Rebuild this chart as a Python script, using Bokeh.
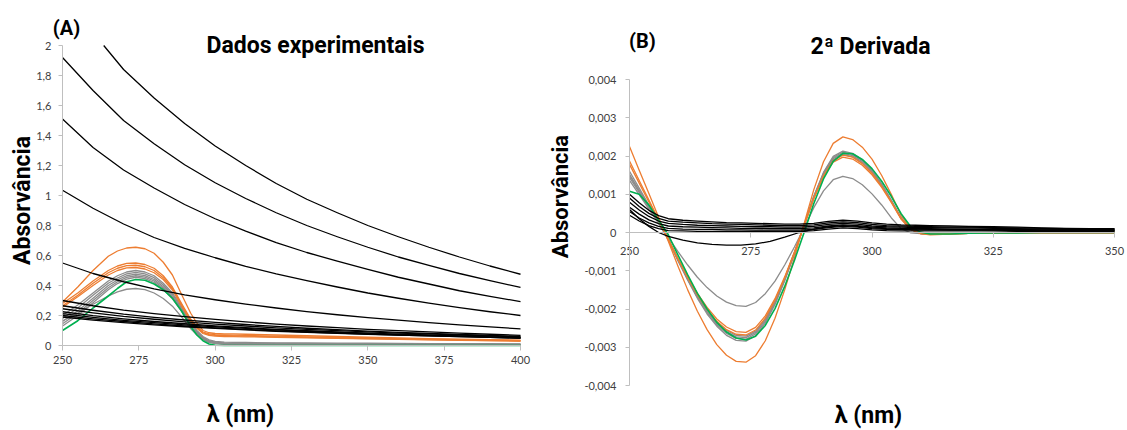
import math
from bokeh.plotting import figure
from bokeh.layouts import row
from bokeh.models import Label, FixedTicker, CustomJSTickFormatter, Range1d
from bokeh.embed import file_html
from bokeh.resources import INLINE

# ---------------- (A) measured absorbance spectra ----------------
wl_scatter = [250, 260, 270, 280, 290, 300, 310, 320, 330, 340, 350, 360, 370, 380, 390, 400]
# the most concentrated sample leaves the 0-2 window near 263.5 nm
wl_black_1 = [263.5, 270, 280, 290, 300, 310, 320, 330, 340, 350, 360, 370, 380, 390, 400]

abs_black_1 = [2.0, 1.84, 1.65, 1.48, 1.33, 1.20, 1.08, 0.975, 0.885, 0.80, 0.725, 0.655, 0.59, 0.53, 0.475]
abs_black_2 = [1.92, 1.70, 1.50, 1.345, 1.205, 1.085, 0.98, 0.885, 0.80, 0.725, 0.655, 0.59, 0.534, 0.48, 0.432, 0.387]
abs_black_3 = [1.51, 1.32, 1.17, 1.05, 0.94, 0.845, 0.762, 0.686, 0.62, 0.562, 0.508, 0.455, 0.41, 0.365, 0.327, 0.293]
abs_black_4 = [1.035, 0.915, 0.81, 0.72, 0.648, 0.585, 0.528, 0.477, 0.432, 0.39, 0.35, 0.315, 0.282, 0.252, 0.225, 0.20]
abs_black_5 = [0.55, 0.48, 0.425, 0.378, 0.338, 0.305, 0.276, 0.25, 0.226, 0.205, 0.186, 0.169, 0.153, 0.138, 0.124, 0.111]
abs_black_6 = [0.30, 0.265, 0.236, 0.213, 0.192, 0.174, 0.157, 0.143, 0.13, 0.119, 0.108, 0.099, 0.091, 0.083, 0.075, 0.068]
abs_black_7 = [0.265, 0.235, 0.209, 0.188, 0.17, 0.154, 0.14, 0.127, 0.115, 0.106, 0.096, 0.088, 0.081, 0.074, 0.067, 0.061]
abs_black_8 = [0.245, 0.218, 0.194, 0.175, 0.158, 0.143, 0.13, 0.118, 0.108, 0.099, 0.091, 0.083, 0.077, 0.07, 0.064, 0.058]
abs_black_9 = [0.225, 0.199, 0.178, 0.16, 0.145, 0.131, 0.119, 0.108, 0.099, 0.091, 0.083, 0.076, 0.07, 0.064, 0.058, 0.053]
abs_black_10 = [0.212, 0.188, 0.168, 0.152, 0.137, 0.125, 0.114, 0.104, 0.095, 0.087, 0.08, 0.073, 0.068, 0.062, 0.057, 0.052]
abs_black_11 = [0.20, 0.178, 0.16, 0.144, 0.13, 0.118, 0.107, 0.098, 0.09, 0.083, 0.076, 0.07, 0.064, 0.059, 0.054, 0.048]
abs_black_12 = [0.19, 0.169, 0.152, 0.137, 0.125, 0.114, 0.104, 0.095, 0.087, 0.081, 0.074, 0.069, 0.064, 0.059, 0.054, 0.05]

wl_band = [250, 255, 260, 265, 268, 271, 274, 277, 280, 283, 286, 289, 292, 294, 296, 298,
           300, 303, 306, 310, 320, 330, 340, 350, 360, 370, 380, 390, 400]

abs_orange_1 = [0.29, 0.39, 0.50, 0.595, 0.63, 0.65, 0.655, 0.645, 0.615, 0.555, 0.47, 0.34, 0.215, 0.15, 0.10, 0.085,
                0.08, 0.078, 0.077, 0.075, 0.07, 0.065, 0.06, 0.055, 0.05, 0.046, 0.042, 0.039, 0.036]
abs_orange_2 = [0.28, 0.35, 0.43, 0.50, 0.53, 0.547, 0.55, 0.54, 0.515, 0.465, 0.39, 0.28, 0.175, 0.125, 0.09, 0.077,
                0.072, 0.07, 0.069, 0.067, 0.063, 0.058, 0.054, 0.05, 0.046, 0.042, 0.039, 0.036, 0.033]
abs_orange_3 = [0.265, 0.335, 0.415, 0.485, 0.515, 0.532, 0.535, 0.525, 0.50, 0.452, 0.38, 0.272, 0.168, 0.12, 0.085, 0.072,
                0.067, 0.065, 0.064, 0.062, 0.058, 0.054, 0.05, 0.046, 0.042, 0.039, 0.036, 0.033, 0.03]
abs_orange_4 = [0.255, 0.325, 0.40, 0.47, 0.50, 0.517, 0.52, 0.51, 0.485, 0.44, 0.37, 0.264, 0.162, 0.115, 0.08, 0.067,
                0.062, 0.06, 0.059, 0.058, 0.055, 0.051, 0.048, 0.044, 0.041, 0.038, 0.035, 0.032, 0.03]

abs_gray_1 = [0.20, 0.27, 0.35, 0.43, 0.465, 0.49, 0.50, 0.49, 0.465, 0.415, 0.35, 0.26, 0.155, 0.10, 0.06, 0.038,
              0.028, 0.023, 0.021, 0.02, 0.018, 0.017, 0.016, 0.015, 0.014, 0.013, 0.012, 0.012, 0.011]
abs_gray_2 = [0.18, 0.25, 0.335, 0.415, 0.45, 0.478, 0.488, 0.478, 0.452, 0.403, 0.34, 0.25, 0.147, 0.094, 0.054, 0.032,
              0.023, 0.018, 0.016, 0.015, 0.014, 0.013, 0.012, 0.011, 0.011, 0.010, 0.010, 0.009, 0.009]
abs_gray_3 = [0.16, 0.23, 0.315, 0.40, 0.437, 0.465, 0.476, 0.466, 0.44, 0.392, 0.33, 0.242, 0.14, 0.088, 0.049, 0.027,
              0.019, 0.014, 0.012, 0.012, 0.011, 0.010, 0.010, 0.009, 0.009, 0.008, 0.008, 0.008, 0.008]
abs_gray_4 = [0.145, 0.215, 0.30, 0.385, 0.425, 0.454, 0.465, 0.456, 0.43, 0.382, 0.32, 0.234, 0.135, 0.084, 0.045, 0.024,
              0.016, 0.011, 0.009, 0.009, 0.008, 0.008, 0.007, 0.007, 0.007, 0.006, 0.006, 0.006, 0.006]
abs_gray_5 = [0.13, 0.20, 0.285, 0.372, 0.413, 0.443, 0.455, 0.446, 0.42, 0.373, 0.312, 0.227, 0.13, 0.08, 0.042, 0.021,
              0.013, 0.008, 0.007, 0.007, 0.006, 0.006, 0.005, 0.005, 0.005, 0.005, 0.004, 0.004, 0.004]
abs_gray_6 = [0.165, 0.215, 0.275, 0.33, 0.358, 0.375, 0.38, 0.372, 0.35, 0.313, 0.262, 0.19, 0.112, 0.072, 0.042, 0.024,
              0.016, 0.012, 0.011, 0.010, 0.009, 0.008, 0.008, 0.007, 0.007, 0.007, 0.006, 0.006, 0.006]

abs_green = [0.10, 0.165, 0.25, 0.33, 0.38, 0.425, 0.44, 0.435, 0.41, 0.372, 0.315, 0.23, 0.125, 0.07, 0.032, 0.01,
             0.002, 0.0, 0.0, 0.0, 0.0, 0.0, 0.0, 0.0, 0.0, 0.0, 0.0, 0.0, 0.0]

# ---------------- (B) second derivative ----------------
wl_deriv = [250, 252, 254, 256, 258, 261, 264, 267, 270, 273, 276, 279, 282, 285, 288, 291,
            294, 297, 300, 303, 306, 309, 312, 316, 320, 325, 330, 335, 340, 345, 350]
wl_deriv_fine = [250, 252, 254, 256, 258, 260, 262, 264, 266, 268, 270, 272, 274, 276, 278, 280, 282, 284,
                 286, 288, 290, 292, 294, 296, 298, 300, 302, 304, 306, 308, 310, 312, 316, 320,
                 325, 330, 335, 340, 345, 350]

d2_black_1 = [0.00100, 0.00078, 0.00058, 0.00044, 0.00036, 0.00032, 0.00030, 0.00028, 0.00026, 0.00025, 0.00024,
              0.00023, 0.00022, 0.00022, 0.00024, 0.00029, 0.00032, 0.00030, 0.00025, 0.00022, 0.00020, 0.00019,
              0.00018, 0.00017, 0.00016, 0.00015, 0.00014, 0.00012, 0.00011, 0.00010, 0.00010]
d2_black_2 = [0.00090, 0.00068, 0.00050, 0.00037, 0.00030, 0.00027, 0.00025, 0.00023, 0.00022, 0.00021, 0.00020,
              0.00019, 0.00018, 0.00018, 0.00020, 0.00025, 0.00028, 0.00026, 0.00021, 0.00018, 0.00017, 0.00016,
              0.00015, 0.00014, 0.00014, 0.00013, 0.00012, 0.00011, 0.00010, 0.00009, 0.00009]
d2_black_3 = [0.00079, 0.00059, 0.00042, 0.00030, 0.00024, 0.00021, 0.00019, 0.00018, 0.00017, 0.00016, 0.00015,
              0.00015, 0.00014, 0.00014, 0.00016, 0.00021, 0.00024, 0.00022, 0.00017, 0.00015, 0.00014, 0.00013,
              0.00013, 0.00012, 0.00012, 0.00011, 0.00010, 0.00009, 0.00008, 0.00008, 0.00008]
d2_black_4 = [0.00066, 0.00048, 0.00033, 0.00023, 0.00017, 0.00015, 0.00014, 0.00013, 0.00012, 0.00011, 0.00011,
              0.00010, 0.00010, 0.00010, 0.00012, 0.00017, 0.00020, 0.00018, 0.00014, 0.00012, 0.00011, 0.00010,
              0.00010, 0.00009, 0.00009, 0.00008, 0.00008, 0.00007, 0.00007, 0.00006, 0.00006]
d2_black_5 = [0.00055, 0.00038, 0.00025, 0.00016, 0.00011, 0.00009, 0.00008, 0.00008, 0.00007, 0.00007, 0.00006,
              0.00006, 0.00006, 0.00006, 0.00008, 0.00013, 0.00016, 0.00014, 0.00010, 0.00008, 0.00008, 0.00007,
              0.00007, 0.00006, 0.00006, 0.00006, 0.00005, 0.00005, 0.00005, 0.00005, 0.00005]
d2_black_6 = [0.00045, 0.00030, 0.00018, 0.00010, 0.00005, 0.00004, 0.00003, 0.00003, 0.00003, 0.00003, 0.00003,
              0.00003, 0.00003, 0.00003, 0.00005, 0.00009, 0.00012, 0.00010, 0.00007, 0.00005, 0.00004, 0.00004,
              0.00004, 0.00004, 0.00004, 0.00004, 0.00003, 0.00003, 0.00003, 0.00003, 0.00003]
d2_black_7 = [0.00060, 0.00036, 0.00016, 0.00000, -0.00010, -0.00020, -0.00027, -0.00031, -0.00033, -0.00033, -0.00030,
              -0.00023, -0.00012, 0.00000, 0.00009, 0.00015, 0.00018, 0.00016, 0.00012, 0.00010, 0.00009, 0.00009,
              0.00008, 0.00008, 0.00008, 0.00007, 0.00007, 0.00006, 0.00006, 0.00005, 0.00005]

d2_orange_1 = [0.00225, 0.00163, 0.00102, 0.00040, -0.00023, -0.00088, -0.00150, -0.00206, -0.00254, -0.00293,
               -0.00321, -0.00337, -0.00339, -0.00322, -0.00283, -0.00224, -0.00150, -0.00066, 0.00023, 0.00112,
               0.00185, 0.00233, 0.00250, 0.00243, 0.00223, 0.00192, 0.00149, 0.00099, 0.00045, 0.00010,
               -0.00003, -0.00006, -0.00004, -0.00002, -0.00001, 0.0, 0.0, 0.0, 0.0, 0.0]
d2_orange_2 = [0.00187, 0.00136, 0.00085, 0.00033, -0.00018, -0.00068, -0.00115, -0.00159, -0.00196, -0.00226,
               -0.00247, -0.00259, -0.00261, -0.00248, -0.00218, -0.00173, -0.00116, -0.00051, 0.00018, 0.00088,
               0.00146, 0.00184, 0.00197, 0.00192, 0.00176, 0.00151, 0.00118, 0.00078, 0.00035, 0.00008,
               -0.00002, -0.00005, -0.00003, -0.00002, -0.00001, 0.0, 0.0, 0.0, 0.0, 0.0]
d2_orange_3 = [0.00178, 0.00129, 0.00080, 0.00032, -0.00018, -0.00070, -0.00118, -0.00163, -0.00201, -0.00232,
               -0.00254, -0.00266, -0.00268, -0.00255, -0.00224, -0.00177, -0.00119, -0.00052, 0.00019, 0.00090,
               0.00149, 0.00188, 0.00202, 0.00197, 0.00180, 0.00155, 0.00121, 0.00080, 0.00036, 0.00008,
               -0.00002, -0.00005, -0.00003, -0.00002, -0.00001, 0.0, 0.0, 0.0, 0.0, 0.0]

d2_gray_1 = [0.00160, 0.00116, 0.00072, 0.00028, -0.00019, -0.00074, -0.00125, -0.00172, -0.00213, -0.00245,
             -0.00269, -0.00282, -0.00284, -0.00270, -0.00237, -0.00188, -0.00126, -0.00056, 0.00020, 0.00095,
             0.00157, 0.00199, 0.00213, 0.00207, 0.00190, 0.00163, 0.00127, 0.00084, 0.00038, 0.00009,
             -0.00003, -0.00005, -0.00003, -0.00002, -0.00001, 0.0, 0.0, 0.0, 0.0, 0.0]
d2_gray_2 = [0.00152, 0.00110, 0.00069, 0.00027, -0.00019, -0.00073, -0.00123, -0.00169, -0.00209, -0.00241,
             -0.00264, -0.00277, -0.00279, -0.00265, -0.00233, -0.00185, -0.00124, -0.00055, 0.00019, 0.00094,
             0.00155, 0.00196, 0.00210, 0.00204, 0.00188, 0.00161, 0.00125, 0.00083, 0.00038, 0.00008,
             -0.00003, -0.00005, -0.00003, -0.00002, -0.00001, 0.0, 0.0, 0.0, 0.0, 0.0]
d2_gray_3 = [0.00144, 0.00105, 0.00065, 0.00026, -0.00019, -0.00071, -0.00121, -0.00167, -0.00206, -0.00238,
             -0.00260, -0.00273, -0.00275, -0.00261, -0.00229, -0.00182, -0.00122, -0.00054, 0.00019, 0.00092,
             0.00153, 0.00193, 0.00207, 0.00201, 0.00185, 0.00159, 0.00124, 0.00082, 0.00037, 0.00008,
             -0.00002, -0.00005, -0.00003, -0.00002, -0.00001, 0.0, 0.0, 0.0, 0.0, 0.0]
d2_gray_4 = [0.00136, 0.00099, 0.00061, 0.00024, -0.00018, -0.00070, -0.00120, -0.00165, -0.00203, -0.00234,
             -0.00256, -0.00269, -0.00271, -0.00258, -0.00226, -0.00179, -0.00120, -0.00053, 0.00019, 0.00091,
             0.00151, 0.00190, 0.00204, 0.00198, 0.00182, 0.00156, 0.00122, 0.00081, 0.00037, 0.00008,
             -0.00002, -0.00005, -0.00003, -0.00002, -0.00001, 0.0, 0.0, 0.0, 0.0, 0.0]
d2_gray_5 = [0.00150, 0.00109, 0.00068, 0.00027, -0.00013, -0.00050, -0.00085, -0.00117, -0.00144, -0.00166,
             -0.00182, -0.00191, -0.00193, -0.00183, -0.00160, -0.00127, -0.00085, -0.00038, 0.00012, 0.00065,
             0.00109, 0.00138, 0.00147, 0.00141, 0.00125, 0.00101, 0.00072, 0.00038, 0.00010, -0.00001,
             -0.00003, -0.00003, -0.00001, -0.00001, 0.0, 0.0, 0.0, 0.0, 0.0, 0.0]

d2_green = [0.00108, 0.00100, 0.00072, 0.00032, -0.00006, -0.00059, -0.00111, -0.00159, -0.00200, -0.00235,
            -0.00260, -0.00276, -0.00281, -0.00271, -0.00243, -0.00199, -0.00141, -0.00073, 0.0, 0.00076,
            0.00140, 0.00186, 0.00207, 0.00206, 0.00191, 0.00167, 0.00134, 0.00094, 0.00049, 0.00015,
            0.00001, -0.00004, -0.00004, -0.00002, -0.00001, -0.00001, 0.0, 0.0, 0.0, 0.0]

ticks_a_x = [250, 275, 300, 325, 350, 375, 400]
ticks_a_y = [0, 0.2, 0.4, 0.6, 0.8, 1.0, 1.2, 1.4, 1.6, 1.8, 2.0]
ticks_b_x = [250, 275, 300, 325, 350]
ticks_b_y = [-0.004, -0.003, -0.002, -0.001, 0, 0.001, 0.002, 0.003, 0.004]

# ---------------- styling ----------------
BLACK = "#000000"
ORANGE = "#ED7D31"
GRAY = "#8C8C8C"
GREEN = "#00B050"
AXIS = "#BFBFBF"
TICK_TXT = "#404040"
TITLE_FONT = "Roboto"
TICK_FONT = "Lato"
LW = 1.3
H = 430


def comma_formatter(decimals):
    return CustomJSTickFormatter(code=f"""
        const v = Math.round(tick * 1e{decimals}) / 1e{decimals};
        return (v === 0 ? "0" : v.toString()).replace('.', ',');
    """)


def panel(width, xlim, ylim, px_left, px_right, px_top, px_bottom):
    """Figure whose frame fills the canvas; the data box xlim x ylim lands on
    the given pixel box, and the axes are pinned to the box's lower-left data
    corner so their tick labels are never cut by the frame."""
    sx = (px_right - px_left) / (xlim[1] - xlim[0])
    sy = (px_bottom - px_top) / (ylim[1] - ylim[0])
    xr = Range1d(xlim[0] - px_left / sx, xlim[1] + (width - px_right) / sx)
    yr = Range1d(ylim[0] - (H - px_bottom) / sy, ylim[1] + px_top / sy)
    p = figure(width=width, height=H, x_range=xr, y_range=yr,
               output_backend="svg", toolbar_location=None,
               min_border=0, min_border_left=0, min_border_right=0,
               min_border_top=0, min_border_bottom=0)
    p.xgrid.visible = False
    p.ygrid.visible = False
    p.outline_line_color = None
    p.background_fill_color = "white"
    p.border_fill_color = "white"
    for ax in (p.xaxis[0], p.yaxis[0]):
        ax.axis_line_color = AXIS
        ax.axis_line_width = 1
        ax.major_tick_line_color = AXIS
        ax.minor_tick_line_color = None
        ax.major_tick_in = 0
        ax.major_label_text_font = TICK_FONT
        ax.major_label_text_font_size = "11px"
        ax.major_label_text_color = TICK_TXT
    p.xaxis.fixed_location = 0
    p.yaxis.fixed_location = xlim[0]
    p.xaxis.bounds = xlim
    p.yaxis.bounds = ylim
    return p


def add_text(p, x, y_from_top, text, size, angle=0.0):
    p.add_layout(Label(x=x, y=H - y_from_top, x_units="screen", y_units="screen", text=text,
                       text_font=TITLE_FONT, text_font_style="bold",
                       text_font_size=size, text_color="#000000",
                       text_align="center", text_baseline="middle", angle=angle))


def curve(p, xs, ys, color, width=LW):
    p.line(xs, ys, line_color=color, line_width=width, line_join="round")


# ---------------- panel A ----------------
pa = panel(545, (250, 400), (0, 2), 62, 520, 45, 345)
pa.xaxis.ticker = FixedTicker(ticks=ticks_a_x)
pa.yaxis.ticker = FixedTicker(ticks=ticks_a_y)
pa.xaxis.formatter = comma_formatter(0)
pa.yaxis.formatter = comma_formatter(1)
pa.xaxis.major_tick_out = 5
pa.yaxis.major_tick_out = 4
pa.xaxis.major_label_standoff = 5
pa.yaxis.major_label_standoff = 7

for ys in [abs_gray_1, abs_gray_2, abs_gray_3, abs_gray_4, abs_gray_5, abs_gray_6]:
    curve(pa, wl_band, ys, GRAY)
for ys in [abs_orange_1, abs_orange_2, abs_orange_3, abs_orange_4]:
    curve(pa, wl_band, ys, ORANGE)
curve(pa, wl_band, abs_green, GREEN, 1.6)
curve(pa, wl_black_1, abs_black_1, BLACK)
for ys in [abs_black_2, abs_black_3, abs_black_4, abs_black_5, abs_black_6,
           abs_black_7, abs_black_8, abs_black_9, abs_black_10, abs_black_11, abs_black_12]:
    curve(pa, wl_scatter, ys, BLACK)

add_text(pa, 66, 27, "(A)", "20px")
add_text(pa, 315, 45, "Dados experimentais", "23px")
add_text(pa, 22, 200, "Absorvância", "23px", angle=math.pi / 2)
add_text(pa, 240, 414, "λ (nm)", "23px")

# ---------------- panel B ----------------
pb = panel(582, (250, 350), (-0.004, 0.004), 84, 569, 79, 385)
pb.xaxis.ticker = FixedTicker(ticks=ticks_b_x)
pb.yaxis.ticker = FixedTicker(ticks=ticks_b_y)
pb.xaxis.formatter = comma_formatter(0)
pb.yaxis.formatter = comma_formatter(3)
pb.xaxis.major_tick_out = 5
pb.yaxis.major_tick_out = 4
pb.xaxis.major_label_standoff = 9
pb.yaxis.major_label_standoff = 9

for ys in [d2_gray_1, d2_gray_2, d2_gray_3, d2_gray_4, d2_gray_5]:
    curve(pb, wl_deriv_fine, ys, GRAY)
for ys in [d2_orange_1, d2_orange_2, d2_orange_3]:
    curve(pb, wl_deriv_fine, ys, ORANGE)
curve(pb, wl_deriv_fine, d2_green, GREEN, 1.6)
for ys in [d2_black_1, d2_black_2, d2_black_3, d2_black_4, d2_black_5, d2_black_6, d2_black_7]:
    curve(pb, wl_deriv, ys, BLACK)

add_text(pb, 97, 40, "(B)", "20px")
add_text(pb, 325, 46, "2ª Derivada", "23px")
add_text(pb, 15, 196, "Absorvância", "22px", angle=math.pi / 2)
add_text(pb, 323, 415, "λ (nm)", "23px")

layout = row(pa, pb)
open("out.html", "w").write(file_html(layout, INLINE))
